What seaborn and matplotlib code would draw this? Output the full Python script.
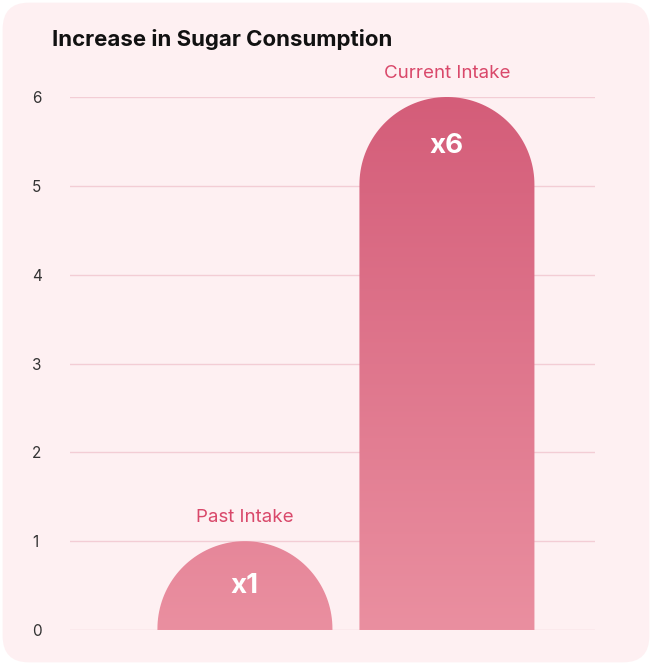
import numpy as np
import pandas as pd
import seaborn as sns
import matplotlib.pyplot as plt
from matplotlib.path import Path
from matplotlib.patches import PathPatch, FancyBboxPatch
from matplotlib.colors import LinearSegmentedColormap

CATEGORIES = ['Past Intake', 'Current Intake']
VALUES = [1, 6]
VALUE_LABELS = ['x1', 'x6']
TITLE = 'Increase in Sugar Consumption'

W, H = 652, 665
plt.rcParams['font.family'] = ['Inter', 'DejaVu Sans']

fig = plt.figure(figsize=(W / 100, H / 100), dpi=100, facecolor='white')
fig.patches.append(FancyBboxPatch((0.004, 0.004), 0.992, 0.992,
                                  boxstyle='round,pad=0,rounding_size=0.04',
                                  transform=fig.transFigure, fc='#fef0f2', ec='none', zorder=-10))
ax = fig.add_axes([70 / W, 35 / H, (595 - 70) / W, (630 - 97) / H])
ax.set_facecolor('none')

df = pd.DataFrame({'cat': CATEGORIES, 'val': VALUES})
bw = 175 / 202
sns.barplot(data=df, x='cat', y='val', width=bw, ax=ax, color='#e07a90')
ax.set_xlim(-0.866, 1.733)
ax.set_ylim(0, 6)

cmap = LinearSegmentedColormap.from_list('g', ['#ea8fa0', '#d45d79'])
ry = 87.5 / 88.8
for p, lab, vlab in zip(ax.patches, CATEGORIES, VALUE_LABELS):
    x0, w, h = p.get_x(), p.get_width(), p.get_height()
    rx = w / 2
    cx = x0 + rx
    cy = max(h - ry, 0)
    t = np.linspace(np.pi, 0, 80)
    xs, ys = cx + rx * np.cos(t), cy + ry * np.sin(t)
    keep = ys <= h + 1e-9
    verts = [(x0, 0)] + list(zip(xs, ys)) + [(x0 + w, 0), (x0, 0)]
    p.set_visible(False)
    clip = PathPatch(Path(verts), transform=ax.transData, fc='none', ec='none')
    ax.add_patch(clip)
    im = ax.imshow(np.linspace(0, 1, 256).reshape(-1, 1), cmap=cmap, aspect='auto',
                   extent=(x0, x0 + w, 0, 6), origin='lower', zorder=3)
    im.set_clip_path(clip)
    ax.text(cx, h + 0.17, lab, ha='center', va='bottom', color='#d9486a', fontsize=13.5, zorder=4)
    ax.text(cx, h - 0.55 if h > 1 else 0.5, vlab, ha='center', va='center',
            color='white', fontsize=20, fontweight='bold', zorder=4)

ax.set_yticks(range(7))
ax.yaxis.grid(True, color='#f3cdd5', lw=1)
ax.set_axisbelow(True)
for s in ax.spines.values():
    s.set_visible(False)
ax.tick_params(axis='y', length=0, pad=6, labelsize=11, labelcolor='#333333')
for t in ax.get_yticklabels():
    t.set_ha('left')
    t.set_x(-0.03)
ax.tick_params(axis='y', pad=16)
ax.set_xticks([])
ax.set_xlabel('')
ax.set_ylabel('')
fig.text(52 / W, 1 - 40 / H, TITLE, fontsize=16, fontweight='bold', color='#111111', va='center')
fig.savefig('out.png', dpi=100, facecolor='white')
